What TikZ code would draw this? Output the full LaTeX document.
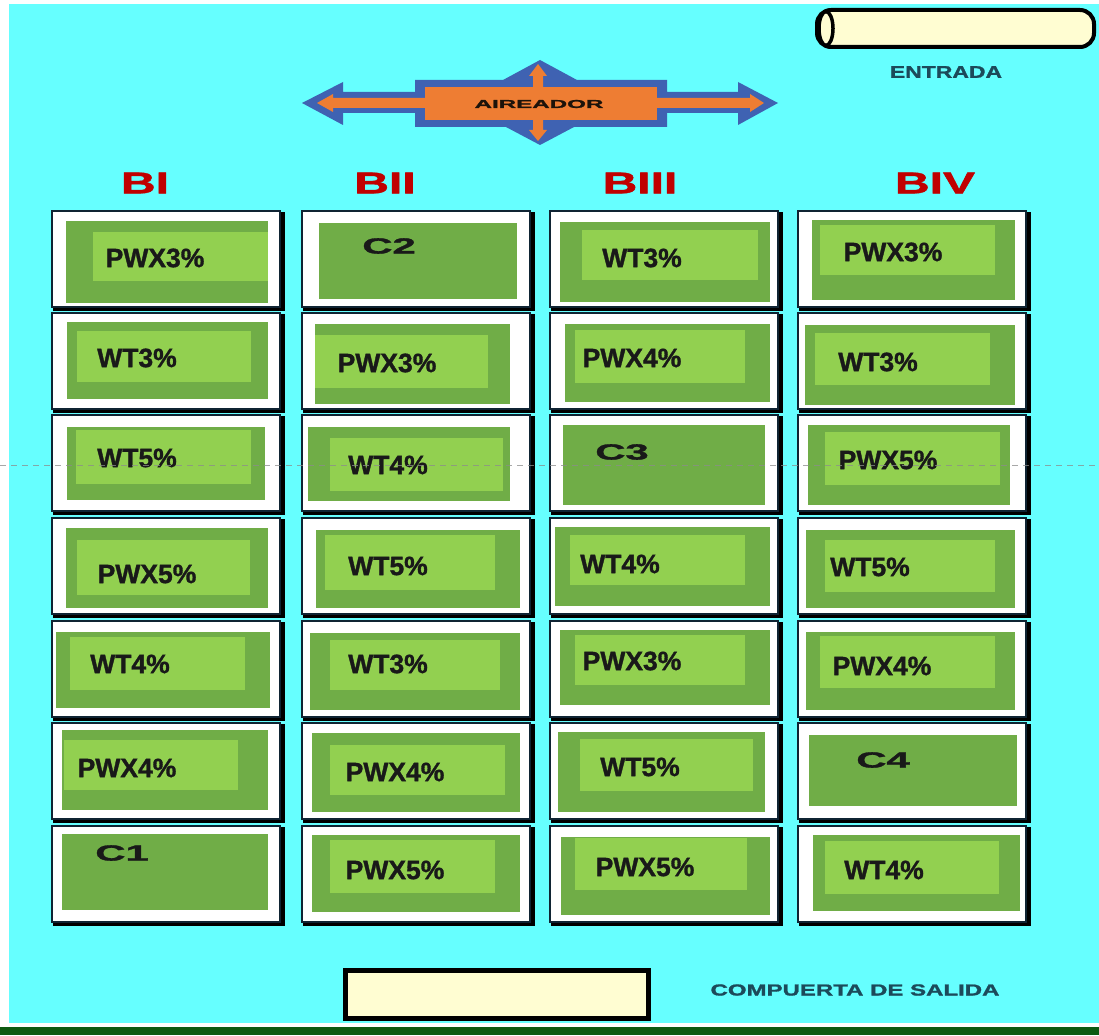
\documentclass[tikz,border=0pt]{standalone}
\usepackage{fontspec}
\setmainfont{Liberation Sans}
\newfontfamily\heavyfont[BoldFeatures={FakeBold=1.2}]{Liberation Sans}
\definecolor{sky}{HTML}{66FFFF}
\definecolor{leafdark}{HTML}{70AD47}
\definecolor{leaflight}{HTML}{92D050}
\definecolor{cream}{HTML}{FFFDD2}
\definecolor{aerblue}{HTML}{3F62B2}
\definecolor{aerorange}{HTML}{EE7D33}
\definecolor{headred}{HTML}{C00000}
\definecolor{slate}{HTML}{1C4A5A}
\definecolor{grass}{HTML}{0E5A12}
\definecolor{frame}{HTML}{0F2433}

\tikzset{
  cellframe/.style={draw=frame, line width=2pt, fill=white},
  celltext/.style={font=\fontsize{26.5}{26.5}\heavyfont\bfseries, text=black!90, inner sep=0pt},
  ctrltext/.style={font=\fontsize{22}{22}\heavyfont\bfseries, text=black!90, inner sep=0pt, xscale=1.9},
  headtext/.style={font=\fontsize{30}{30}\heavyfont\bfseries, text=headred, inner sep=0pt, xscale=1.6},
  captext/.style={font=\fontsize{#1}{#1}\heavyfont\bfseries, text=slate, inner sep=0pt},
}

% one plot of the field: frame, dark bed, light bed, label
\newcommand\bedplot[7]{%
  \fill[black] (#1+1,#2+1) rectangle ++(232,99);
  \draw[cellframe] (#1,#2) rectangle ++(228,96);
  \fill[leafdark] #3;
  \fill[leaflight] #4;
  \node[celltext] (#7) at #6 {#5};
}
% a control plot: frame and dark bed only
\newcommand\ctrlplot[6]{%
  \fill[black] (#1+1,#2+1) rectangle ++(232,99);
  \draw[cellframe] (#1,#2) rectangle ++(228,96);
  \fill[leafdark] #3;
  \node[ctrltext] (#6) at #5 {#4};
}

\begin{document}
\begin{tikzpicture}[x=1pt,y=-1pt]
\useasboundingbox (0,0) rectangle (1099,1035);
\fill[white] (0,0) rectangle (1099,1035);
\fill[sky] (9,4) rectangle (1099,1023);
\fill[grass] (0,1027) rectangle (1099,1035);

% inlet pipe
\draw[line width=4pt, fill=cream, rounded corners=14pt] (817,10) rectangle (1094,47);
\draw[line width=3.5pt, fill=cream] (826,28.5) ellipse [x radius=7, y radius=17];
\node[captext=17, xscale=1.35] (entrada) at (946,72) {ENTRADA};

% aerator
\fill[aerblue] (302,103) -- (343,82) -- (343,92) -- (415,92) -- (415,80) -- (503,80)
  -- (540,60) -- (577,80) -- (667,80) -- (667,92) -- (738,92) -- (738,82) -- (778,103)
  -- (738,125) -- (738,113) -- (667,113) -- (667,127) -- (574,127) -- (540,145)
  -- (506,127) -- (415,127) -- (415,113) -- (343,113) -- (343,125) -- cycle;
\fill[aerorange] (317,103) -- (333,94) -- (333,98) -- (750,98) -- (750,94) -- (764,103)
  -- (750,112) -- (750,108) -- (333,108) -- (333,112) -- cycle;
\fill[aerorange] (538,64) -- (547,76) -- (543,76) -- (543,130) -- (547,130) -- (538,141)
  -- (529,130) -- (533,130) -- (533,76) -- (529,76) -- cycle;
\fill[aerorange] (425,87) rectangle (657,120);
\node[font=\fontsize{11.5}{11.5}\heavyfont\bfseries, text=black!85!brown, inner sep=0pt, xscale=2.1] (aireador) at (539,104) {AIREADOR};

% block headings
\node[headtext] (hBI) at (145,183) {BI};
\node[headtext] (hBII) at (385,183) {BII};
\node[headtext] (hBIII) at (640,183) {BIII};
\node[headtext] (hBIV) at (935,183) {BIV};

% block I
\bedplot{52}{211}{(66,221) rectangle (268,303)}{(93,232) rectangle (268,281)}{PWX3\%}{(155,258)}{a1}
\bedplot{52}{313}{(67,322) rectangle (268,399)}{(77,331) rectangle (251,382)}{WT3\%}{(137,358)}{a2}
\bedplot{52}{415}{(67,427) rectangle (265,500)}{(76,430) rectangle (251,484)}{WT5\%}{(137,458)}{a3}
\bedplot{52}{518}{(66,528) rectangle (268,608)}{(77,540) rectangle (250,595)}{PWX5\%}{(147,574)}{a4}
\bedplot{52}{621}{(56,632) rectangle (270,708)}{(70,637) rectangle (245,690)}{WT4\%}{(130,664)}{a5}
\bedplot{52}{723}{(62,730) rectangle (268,810)}{(64,740) rectangle (238,790)}{PWX4\%}{(127,768)}{a6}
\ctrlplot{52}{826}{(62,834) rectangle (268,910)}{C1}{(122,853)}{a7}

% block II
\ctrlplot{302}{211}{(319,223) rectangle (517,299)}{C2}{(389,246)}{b1}
\bedplot{302}{313}{(315,324) rectangle (510,404)}{(315,335) rectangle (488,388)}{PWX3\%}{(387,363)}{b2}
\bedplot{302}{415}{(308,427) rectangle (510,501)}{(330,438) rectangle (503,491)}{WT4\%}{(388,465)}{b3}
\bedplot{302}{518}{(316,530) rectangle (520,608)}{(325,535) rectangle (495,590)}{WT5\%}{(388,566)}{b4}
\bedplot{302}{621}{(310,633) rectangle (520,710)}{(330,640) rectangle (500,690)}{WT3\%}{(388,664)}{b5}
\bedplot{302}{723}{(312,733) rectangle (520,812)}{(330,745) rectangle (505,795)}{PWX4\%}{(395,772)}{b6}
\bedplot{302}{826}{(312,835) rectangle (520,912)}{(330,840) rectangle (495,893)}{PWX5\%}{(395,870)}{b7}

% block III
\bedplot{550}{211}{(560,222) rectangle (770,302)}{(582,230) rectangle (758,280)}{WT3\%}{(642,258)}{c1}
\bedplot{550}{313}{(565,324) rectangle (770,402)}{(575,330) rectangle (745,383)}{PWX4\%}{(632,358)}{c2}
\ctrlplot{550}{415}{(563,425) rectangle (765,505)}{C3}{(622,452)}{c3}
\bedplot{550}{518}{(555,527) rectangle (770,606)}{(570,535) rectangle (745,585)}{WT4\%}{(620,564)}{c4}
\bedplot{550}{621}{(560,630) rectangle (770,705)}{(575,635) rectangle (745,685)}{PWX3\%}{(632,661)}{c5}
\bedplot{550}{723}{(558,732) rectangle (765,812)}{(580,739) rectangle (753,791)}{WT5\%}{(640,767)}{c6}
\bedplot{550}{826}{(561,837) rectangle (770,915)}{(575,838) rectangle (747,890)}{PWX5\%}{(645,867)}{c7}

% block IV
\bedplot{798}{211}{(812,220) rectangle (1015,300)}{(820,225) rectangle (995,275)}{PWX3\%}{(893,252)}{d1}
\bedplot{798}{313}{(805,325) rectangle (1015,405)}{(815,333) rectangle (990,385)}{WT3\%}{(878,362)}{d2}
\bedplot{798}{415}{(808,425) rectangle (1010,505)}{(825,432) rectangle (1000,485)}{PWX5\%}{(888,460)}{d3}
\bedplot{798}{518}{(806,530) rectangle (1015,608)}{(825,540) rectangle (995,592)}{WT5\%}{(870,567)}{d4}
\bedplot{798}{621}{(806,632) rectangle (1015,710)}{(820,636) rectangle (995,688)}{PWX4\%}{(882,666)}{d5}
\ctrlplot{798}{723}{(809,735) rectangle (1017,806)}{C4}{(883,760)}{d6}
\bedplot{798}{826}{(813,835) rectangle (1020,911)}{(825,841) rectangle (999,894)}{WT4\%}{(884,870)}{d7}

% guide line across the field
\draw[black!45, line width=1pt, dash pattern=on 6pt off 5pt, opacity=0.75] (0,465) -- (1099,465);

% outlet gate
\draw[line width=5pt, fill=cream] (345,970) rectangle (648,1018);
\node[captext=16, xscale=1.5] (salida) at (855,990) {COMPUERTA DE SALIDA};
\end{tikzpicture}
\end{document}
